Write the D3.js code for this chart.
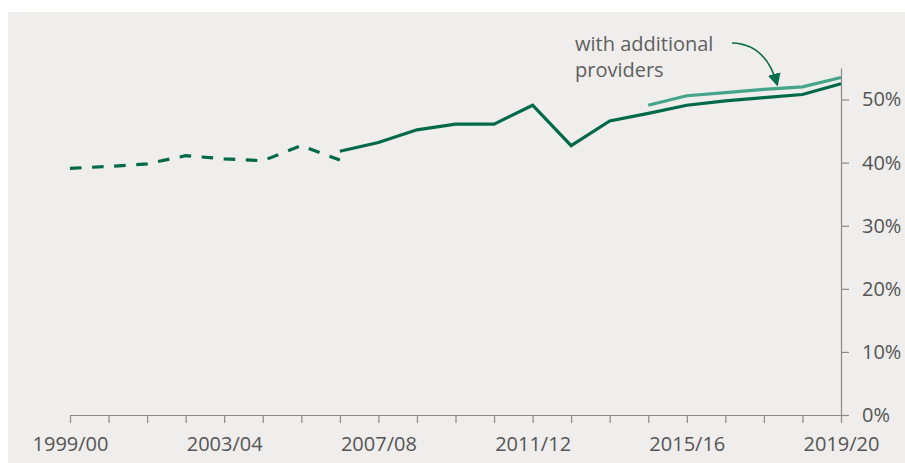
<!DOCTYPE html>
<html>
<head>
<meta charset="utf-8">
<script src="https://cdn.jsdelivr.net/npm/d3@7"></script>
<style>
  body { margin: 0; background: #fff; }
  svg { display: block; font-family: "Open Sans", sans-serif; }
</style>
</head>
<body>
<svg id="chart"></svg>
<script>
  "use strict";

  var years = ["1999/00","2000/01","2001/02","2002/03","2003/04","2004/05","2005/06","2006/07",
    "2007/08","2008/09","2009/10","2010/11","2011/12","2012/13","2013/14","2014/15",
    "2015/16","2016/17","2017/18","2018/19","2019/20"];
  var tickLabels = ["1999/00","2003/04","2007/08","2011/12","2015/16","2019/20"];

  // old series (dashed), 1999/00 - 2006/07
  var oldYears = years.slice(0, 8);
  var oldValues = [39.1, 39.4, 39.8, 41.1, 40.6, 40.3, 42.7, 40.4];

  // current series, 2006/07 - 2019/20
  var newYears = years.slice(7);
  var newValues = [41.8, 43.2, 45.2, 46.1, 46.1, 49.1, 42.7, 46.6, 47.8, 49.1, 49.8, 50.3, 50.8, 52.5];

  // with additional providers, 2014/15 - 2019/20
  var addYears = years.slice(15);
  var addValues = [49.1, 50.6, 51.1, 51.6, 52.0, 53.5];

  var yTicks = [0, 10, 20, 30, 40, 50];

  var width = 905, height = 463;
  var margin = { top: 68, right: 64, bottom: 48, left: 70 };

  var svg = d3.select("#chart")
    .attr("width", width)
    .attr("height", height);

  svg.append("rect")
    .attr("x", 8).attr("y", 12)
    .attr("width", width - 8).attr("height", height - 12)
    .attr("fill", "#efeeec");

  var x = d3.scalePoint()
    .domain(years)
    .range([margin.left, width - margin.right]);
  var y = d3.scaleLinear()
    .domain([0, 55])
    .range([height - margin.bottom, margin.top]);

  // x axis
  var xAxis = svg.append("g")
    .attr("transform", `translate(0, ${y(0)})`)
    .call(d3.axisBottom(x).tickSize(8).tickSizeOuter(0)
      .tickFormat(d => tickLabels.indexOf(d) >= 0 ? d : ""));
  xAxis.select(".domain").attr("stroke", "#8a8a8a").attr("stroke-width", 1.2);
  xAxis.selectAll(".tick line").attr("stroke", "#8a8a8a").attr("stroke-width", 1.2);
  xAxis.selectAll(".tick text")
    .attr("y", 22)
    .attr("dy", "0.71em")
    .attr("fill", "#555")
    .style("font-size", "20px")
    .style("font-family", "'Open Sans', sans-serif");

  // y axis on the right
  var yAxis = svg.append("g")
    .attr("transform", `translate(${x(years[years.length - 1])}, 0)`)
    .call(d3.axisRight(y).tickValues(yTicks).tickSize(8).tickSizeOuter(0)
      .tickFormat(d => d + "%"));
  yAxis.select(".domain").attr("stroke", "#8a8a8a").attr("stroke-width", 1.2);
  yAxis.selectAll(".tick line").attr("stroke", "#8a8a8a").attr("stroke-width", 1.2);
  yAxis.selectAll(".tick text")
    .attr("x", 21)
    .attr("fill", "#555")
    .style("font-size", "20px")
    .style("font-family", "'Open Sans', sans-serif");

  var line = d3.line()
    .x(d => x(d[0]))
    .y(d => y(d[1]));

  var dashed = svg.append("path")
    .datum(d3.zip(oldYears, oldValues))
    .attr("d", line)
    .attr("fill", "none")
    .attr("stroke", "#00694a")
    .attr("stroke-width", 3.2);

  // fit the dash pattern so the line starts and ends with a dash
  var len = dashed.node().getTotalLength();
  var dash = 12, gap = 11;
  var n = Math.round((len + gap) / (dash + gap));
  var k = (len + gap) / (n * (dash + gap));
  dashed.attr("stroke-dasharray", (dash * k) + "," + (gap * k));

  svg.append("path")
    .datum(d3.zip(addYears, addValues))
    .attr("d", line)
    .attr("fill", "none")
    .attr("stroke", "#44a58a")
    .attr("stroke-width", 3.2);

  svg.append("path")
    .datum(d3.zip(newYears, newValues))
    .attr("d", line)
    .attr("fill", "none")
    .attr("stroke", "#00694a")
    .attr("stroke-width", 3.2)
    .attr("stroke-linejoin", "miter");

  // annotation
  var note = svg.append("text")
    .attr("x", 575)
    .attr("y", 51)
    .attr("fill", "#5f5f5f")
    .style("font-size", "20px");
  note.append("tspan").attr("x", 575).text("with additional");
  note.append("tspan").attr("x", 575).attr("dy", 26).text("providers");

  svg.append("defs").append("marker")
    .attr("id", "arrow")
    .attr("viewBox", "0 0 10 10")
    .attr("refX", 8).attr("refY", 5)
    .attr("markerWidth", 13).attr("markerHeight", 13)
    .attr("markerUnits", "userSpaceOnUse")
    .attr("orient", "auto")
    .append("path")
    .attr("d", "M0,0 L10,5 L0,10 Z")
    .attr("fill", "#0b6b4d");

  svg.append("path")
    .attr("d", "M732,43 Q766,44 777,84")
    .attr("fill", "none")
    .attr("stroke", "#0b6b4d")
    .attr("stroke-width", 1.6)
    .attr("marker-end", "url(#arrow)");
</script>
</body>
</html>
